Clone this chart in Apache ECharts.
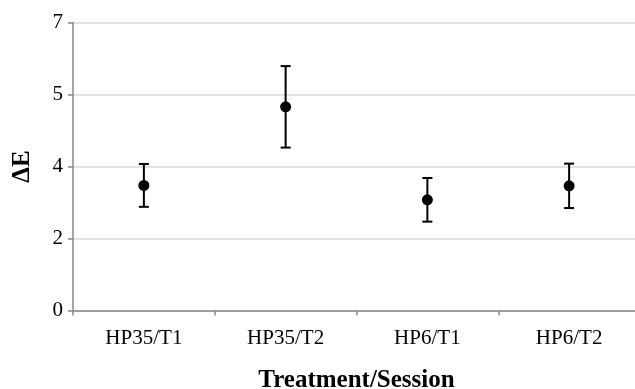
<!DOCTYPE html>
<html>
<head>
<meta charset="utf-8">
<script src="https://cdn.jsdelivr.net/npm/echarts@6/dist/echarts.min.js"></script>
<style>html,body{margin:0;padding:0;background:#fff;}#c{width:635px;height:389px;}</style>
</head>
<body>
<div id="c"></div>
<script>
var categories = ['HP35/T1', 'HP35/T2', 'HP6/T1', 'HP6/T2'];
var means = [3.04, 4.95, 2.69, 3.03];
var errors = [0.52, 0.99, 0.53, 0.54];
var yTickValues = [0, 1.75, 3.5, 5.25, 7];
var yTickLabels = ['0', '2', '4', '5', '7'];

var chart = echarts.init(document.getElementById('c'), null, {renderer: 'canvas'});
var errData = categories.map(function (c, i) { return [i, means[i] - errors[i], means[i] + errors[i]]; });
var font = '"Liberation Serif", "Times New Roman", serif';
chart.setOption({
  animation: false,
  grid: {left: 73, right: -5, top: 22.5, bottom: 78.5, containLabel: false, outerBoundsMode: 'none'},
  xAxis: {
    type: 'category',
    data: categories,
    boundaryGap: true,
    name: 'Treatment/Session',
    nameLocation: 'middle',
    nameGap: 58,
    nameTextStyle: {fontFamily: font, fontSize: 25, fontWeight: 'bold', color: '#000'},
    axisLine: {lineStyle: {color: '#888', width: 1.5}},
    axisTick: {show: true, length: 5, lineStyle: {color: '#888', width: 1.5}},
    axisLabel: {fontFamily: font, fontSize: 21, color: '#000', margin: 17},
    splitLine: {show: false}
  },
  yAxis: {
    type: 'value',
    min: 0, max: 7, interval: 1.75,
    name: 'ΔE',
    nameLocation: 'middle',
    nameGap: 38,
    nameTextStyle: {fontFamily: font, fontSize: 25, fontWeight: 'bold', color: '#000'},
    axisLine: {show: true, lineStyle: {color: '#888', width: 1.5}},
    axisTick: {show: true, length: 5, lineStyle: {color: '#888', width: 1.5}},
    axisLabel: {fontFamily: font, fontSize: 21, color: '#000', margin: 10,
      formatter: function (v) { var i = yTickValues.indexOf(v); return i >= 0 ? yTickLabels[i] : ''; }},
    splitLine: {show: true, lineStyle: {color: '#d9d9d9', width: 1.5}}
  },
  series: [
    {
      type: 'custom',
      data: errData,
      z: 3,
      renderItem: function (params, api) {
        var x = api.value(0);
        var lo = api.coord([x, api.value(1)]);
        var hi = api.coord([x, api.value(2)]);
        var hw = 5;
        var st = {stroke: '#000', lineWidth: 2};
        return {type: 'group', children: [
          {type: 'line', shape: {x1: lo[0], y1: lo[1], x2: hi[0], y2: hi[1]}, style: st},
          {type: 'line', shape: {x1: lo[0] - hw, y1: lo[1], x2: lo[0] + hw, y2: lo[1]}, style: st},
          {type: 'line', shape: {x1: hi[0] - hw, y1: hi[1], x2: hi[0] + hw, y2: hi[1]}, style: st}
        ]};
      }
    },
    {
      type: 'scatter',
      data: means,
      symbol: 'circle',
      symbolSize: 11,
      z: 4,
      itemStyle: {color: '#000', opacity: 1}
    }
  ]
});
</script>
</body>
</html>
